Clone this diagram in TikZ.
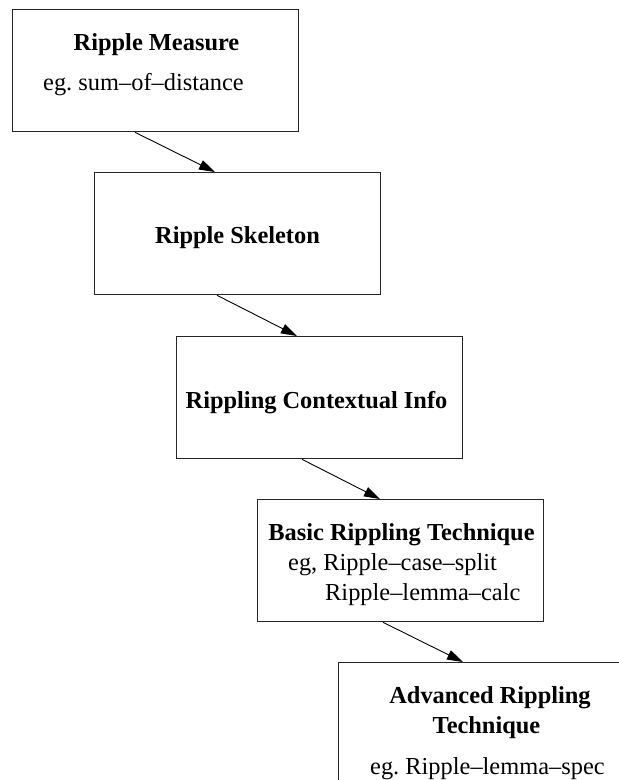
\documentclass[tikz,border=0pt]{standalone}
\usepackage{fontspec}
\setmainfont{Liberation Serif}
\usetikzlibrary{arrows.meta,calc}
\frenchspacing
\tikzset{
  stage/.style={draw=black!85, line width=1.3pt, rectangle, anchor=north west,
    minimum width=286pt, minimum height=122pt, inner sep=0pt},
  lbl/.style={inner sep=0pt, font=\fontsize{24.4}{28}\selectfont},
  title/.style={lbl, font=\fontsize{24.4}{28}\selectfont\bfseries, anchor=base},
  sub/.style={lbl, anchor=base west},
  flow/.style={line width=0.9pt, -{Triangle[length=16pt,width=10pt]}}
}
\begin{document}
\begin{tikzpicture}[x=1pt,y=-1pt]
\clip (0,0) rectangle (619,780);
\fill[white] (0,0) rectangle (619,780);
% boxes
\node[stage] (b1) at (12,9) {};
\node[stage] (b2) at (94,172) {};
\node[stage] (b3) at (176,336) {};
\node[stage] (b4) at (257,499) {};
\node[stage] (b5) at (338,662) {};
% texts
\node[title] (t1) at (156.5,50) {Ripple Measure};
\node[sub] (s1) at (43,90) {\frenchspacing eg. sum–of–distance};
\node[title] (t2) at (237.5,243) {Ripple Skeleton};
\node[title] (t3) at (316.5,408) {Rippling Contextual Info};
\node[title] (t4) at (401.5,540) {Basic Rippling Technique};
\node[sub] (s4a) at (288,570) {eg, Ripple–case–split};
\node[sub] (s4b) at (325,600) {Ripple–lemma–calc};
\node[title] (t5a) at (490,703) {Advanced Rippling};
\node[title] (t5b) at (486.5,733) {Technique};
\node[sub] (s5) at (370,774) {\frenchspacing eg. Ripple–lemma–spec};
% connectors
\draw[flow] ($(b1.south west)+(123,0)$) -- ($(b2.north west)+(121,0)$);
\draw[flow] ($(b2.south west)+(123,0)$) -- ($(b3.north west)+(121,0)$);
\draw[flow] ($(b3.south west)+(126,0)$) -- ($(b4.north west)+(123,0)$);
\draw[flow] ($(b4.south west)+(126,0)$) -- ($(b5.north west)+(125,0)$);
\end{tikzpicture}
\end{document}
